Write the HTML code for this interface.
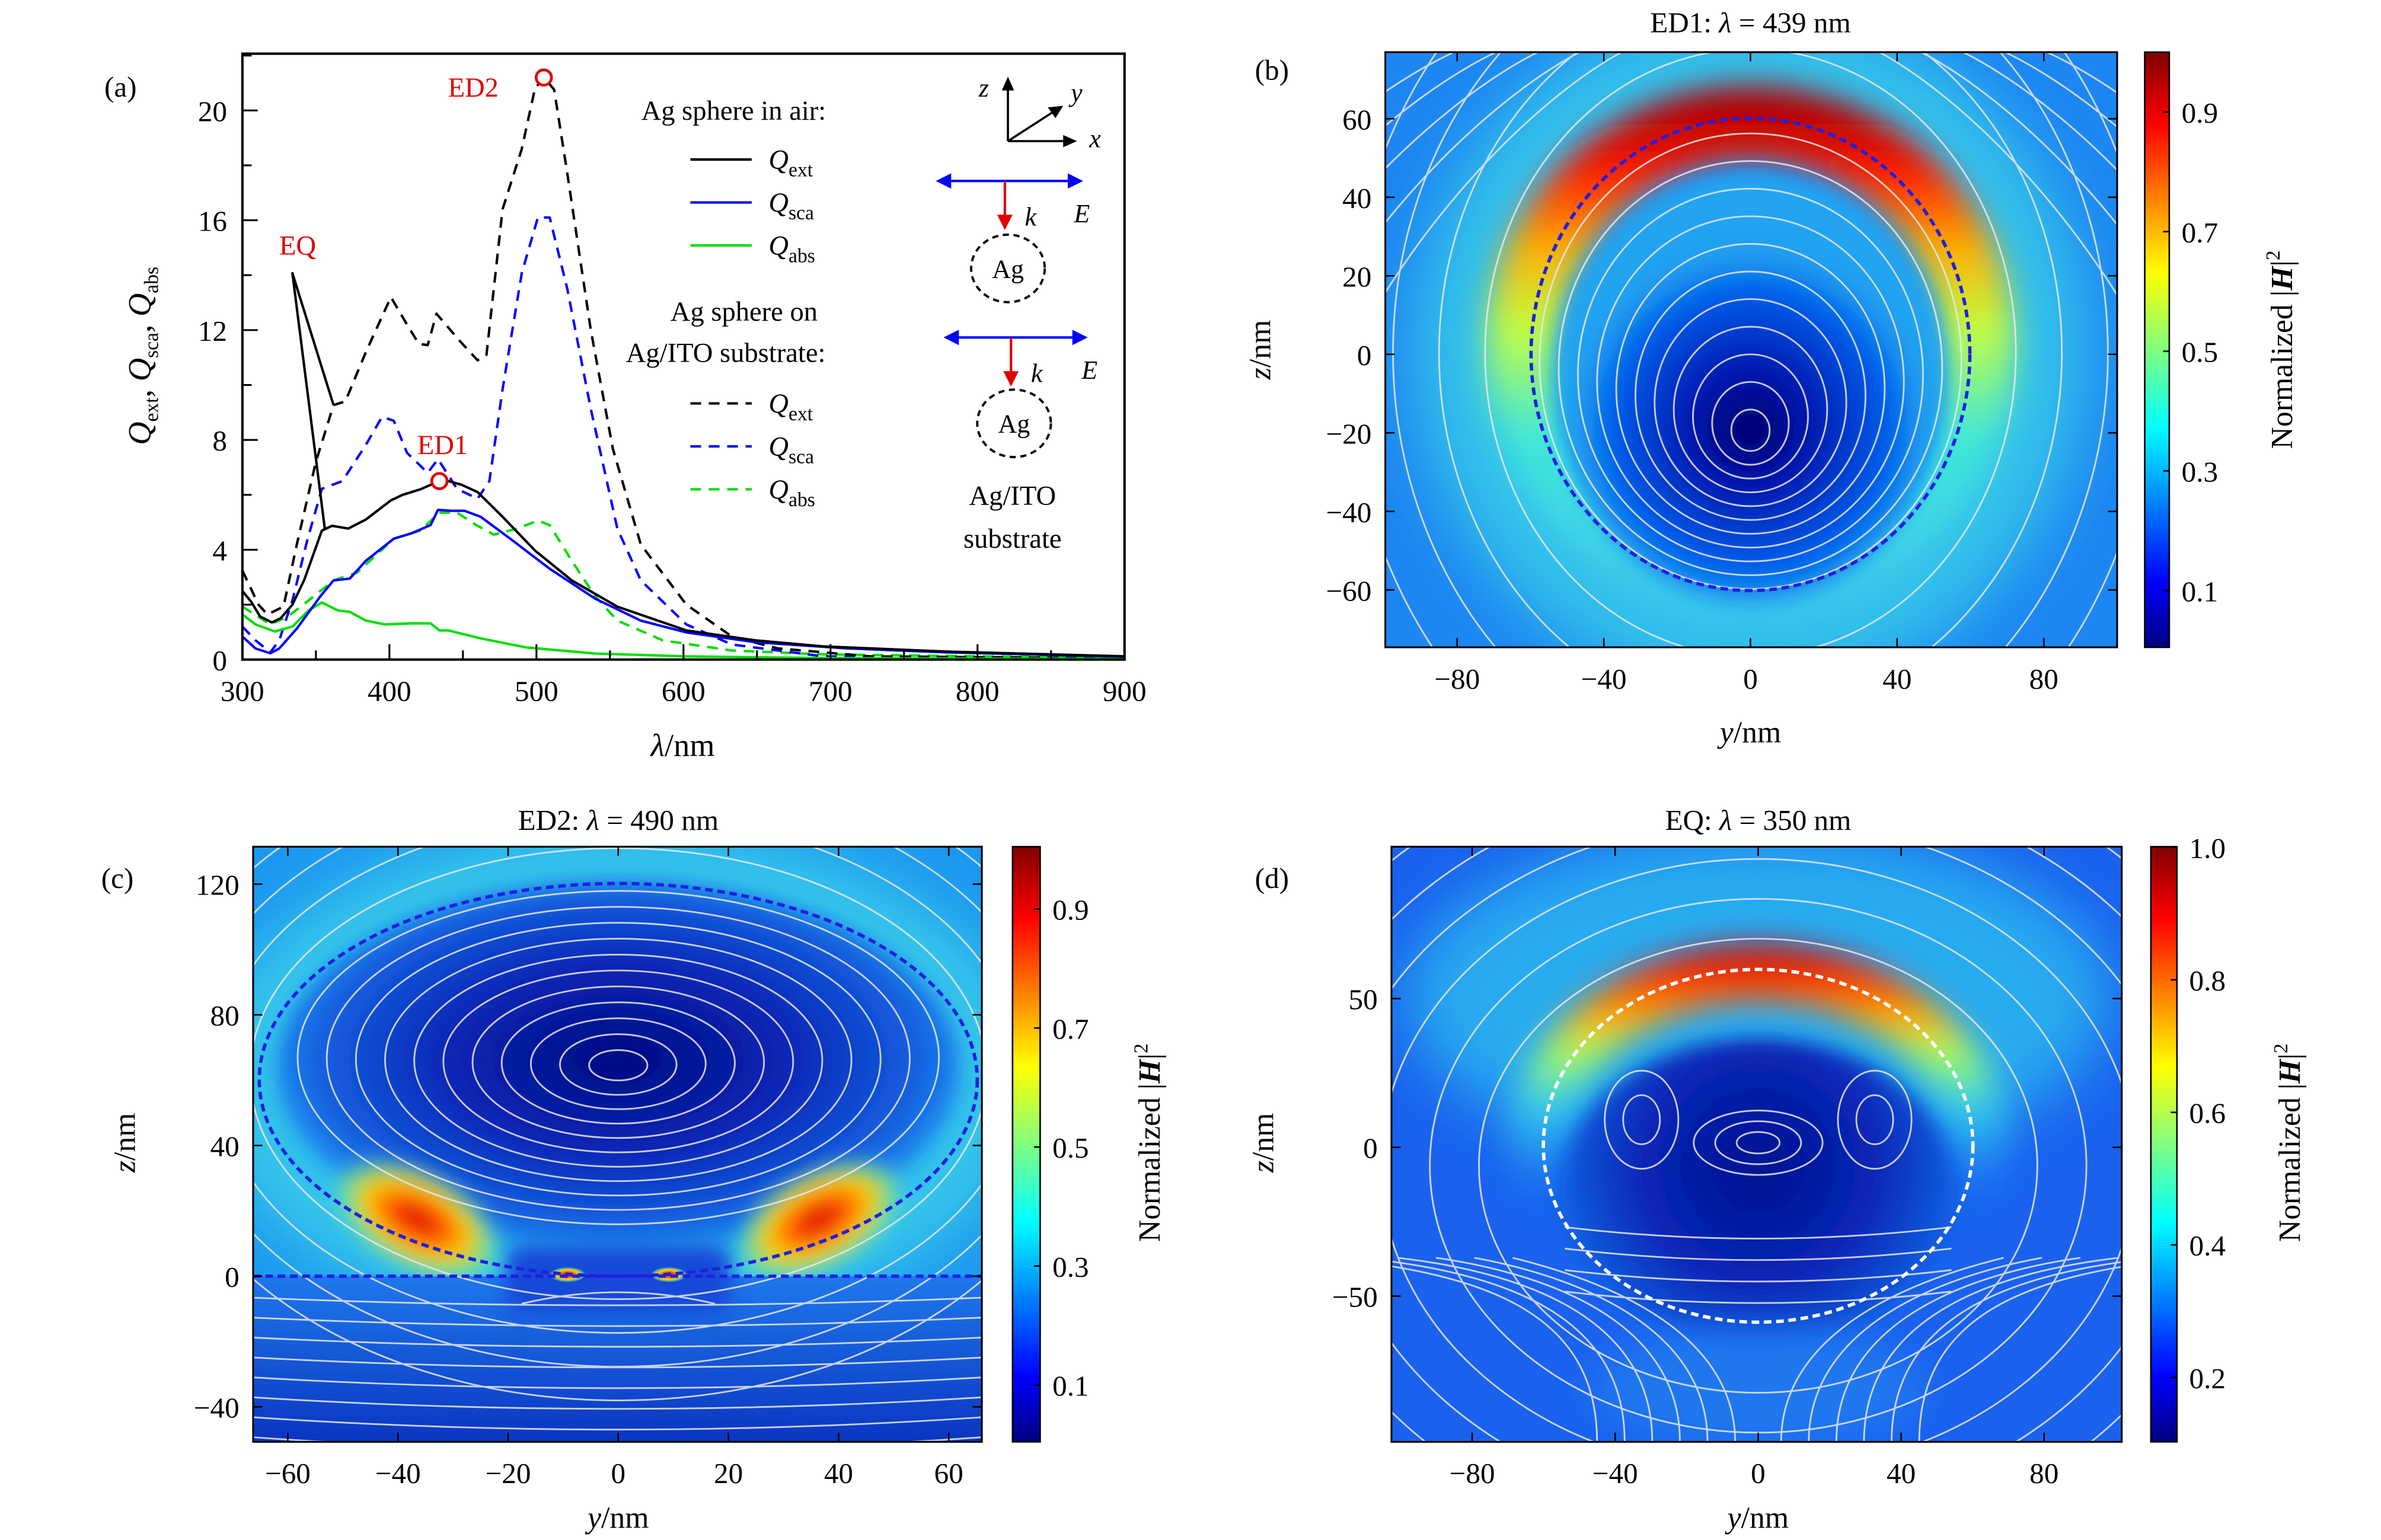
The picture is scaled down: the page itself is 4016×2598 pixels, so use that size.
<!DOCTYPE html>
<html><head><meta charset="utf-8"><style>
html,body{margin:0;padding:0;background:#fff;overflow:hidden;width:4016px;height:2598px;}
#wrap{width:4016px;height:2598px;overflow:hidden;position:relative;}
svg{display:block;position:absolute;left:0;top:0;}
text{font-family:"Liberation Serif","DejaVu Serif",serif;}
</style></head><body>
<div id="wrap">
<svg id="fig" xmlns="http://www.w3.org/2000/svg" width="4016" height="2598" viewBox="0 0 1552 1004" overflow="hidden">
<defs>
  <linearGradient id="jet" x1="0" y1="1" x2="0" y2="0">
    <stop offset="0" stop-color="#00007f"/><stop offset="0.11" stop-color="#0000ff"/>
    <stop offset="0.37" stop-color="#00ffff"/><stop offset="0.63" stop-color="#ffff00"/>
    <stop offset="0.88" stop-color="#ff0000"/><stop offset="1" stop-color="#800000"/>
  </linearGradient>
  <filter id="b6" x="-50%" y="-50%" width="200%" height="200%"><feGaussianBlur stdDeviation="6"/></filter>
  <filter id="b10" x="-50%" y="-50%" width="200%" height="200%"><feGaussianBlur stdDeviation="10"/></filter>
  <filter id="b12" x="-50%" y="-50%" width="200%" height="200%"><feGaussianBlur stdDeviation="12"/></filter>
  <filter id="b20" x="-50%" y="-50%" width="200%" height="200%"><feGaussianBlur stdDeviation="20"/></filter>
  <clipPath id="clipB"><rect x="903" y="34" width="477" height="388"/></clipPath>
  <clipPath id="clipC"><rect x="165" y="552" width="475" height="388"/></clipPath>
  <clipPath id="clipD"><rect x="907" y="552" width="476" height="388"/></clipPath>
  <linearGradient id="ringB" gradientUnits="userSpaceOnUse" x1="0" y1="70" x2="0" y2="400">
    <stop offset="0" stop-color="#b00000"/><stop offset="0.13" stop-color="#ff1800"/>
    <stop offset="0.28" stop-color="#ffb000"/><stop offset="0.44" stop-color="#c0ff40"/>
    <stop offset="0.65" stop-color="#40e8d8"/><stop offset="1" stop-color="#40c8f0"/>
  </linearGradient>
  <radialGradient id="innerB" cx="1141" cy="280" r="130" gradientUnits="userSpaceOnUse">
    <stop offset="0" stop-color="#00006e"/><stop offset="0.3" stop-color="#0018b0"/>
    <stop offset="0.7" stop-color="#0060ec"/><stop offset="1" stop-color="#20a8f0" stop-opacity="0"/>
  </radialGradient>
  <radialGradient id="innerC" cx="403" cy="690" r="230" gradientUnits="userSpaceOnUse" gradientTransform="translate(403 690) scale(1 0.55) translate(-403 -690)">
    <stop offset="0" stop-color="#000a80"/><stop offset="0.5" stop-color="#0a28b8"/>
    <stop offset="0.85" stop-color="#1460e0"/><stop offset="1" stop-color="#2090f0"/>
  </radialGradient>
  <radialGradient id="hot">
    <stop offset="0" stop-color="#d00000"/><stop offset="0.3" stop-color="#ff5000"/>
    <stop offset="0.6" stop-color="#ffd000"/><stop offset="0.85" stop-color="#80f080" stop-opacity="0.6"/>
    <stop offset="1" stop-color="#40d0f0" stop-opacity="0"/>
  </radialGradient>
  <linearGradient id="belowC" x1="0" y1="0" x2="0" y2="1">
    <stop offset="0" stop-color="#1e78ec"/><stop offset="1" stop-color="#0a34c0"/>
  </linearGradient>
  <linearGradient id="ringD" gradientUnits="userSpaceOnUse" x1="0" y1="615" x2="0" y2="790">
    <stop offset="0" stop-color="#b00000"/><stop offset="0.12" stop-color="#ff2000"/>
    <stop offset="0.28" stop-color="#ffb000"/><stop offset="0.42" stop-color="#a0ff60"/>
    <stop offset="0.62" stop-color="#30d0f0" stop-opacity="0.8"/><stop offset="1" stop-color="#2080f0" stop-opacity="0"/>
  </linearGradient>
  <radialGradient id="innerD" cx="1146" cy="760" r="130" gradientUnits="userSpaceOnUse">
    <stop offset="0" stop-color="#001090"/><stop offset="0.6" stop-color="#0828b8"/>
    <stop offset="1" stop-color="#1060e0"/>
  </radialGradient>
</defs>

<g id="panelA">
  <text x="68" y="63" font-size="19">(a)</text>
  <g id="aMarks"></g>
  <rect x="158" y="35" width="575" height="395" fill="none" stroke="#000" stroke-width="1.6"/>
  <g id="aTicks"></g>
  <text x="445" y="493" font-size="21" text-anchor="middle"><tspan font-style="italic">λ</tspan>/nm</text>
  <text transform="translate(98 232) rotate(-90)" font-size="21" text-anchor="middle"><tspan font-style="italic">Q</tspan><tspan font-size="13" dy="5">ext</tspan><tspan dy="-5">, </tspan><tspan font-style="italic">Q</tspan><tspan font-size="13" dy="5">sca</tspan><tspan dy="-5">, </tspan><tspan font-style="italic">Q</tspan><tspan font-size="13" dy="5">abs</tspan></text>
  <text x="182" y="166" font-size="18" fill="#e00000">EQ</text>
  <text x="292" y="63" font-size="18" fill="#e00000">ED2</text>
  <text x="272" y="296" font-size="18" fill="#e00000">ED1</text>
  <g font-size="18">
    <text x="418" y="78">Ag sphere in air:</text>
    <text x="437" y="209">Ag sphere on</text>
    <text x="408" y="236">Ag/ITO substrate:</text>
  </g>
  <g id="legendEntries"></g>
  <g>
    <g stroke="#000" stroke-width="1.4" fill="none">
      <line x1="657" y1="92" x2="657" y2="56"/><line x1="657" y1="92" x2="696" y2="92"/><line x1="657" y1="92" x2="688" y2="72"/>
    </g>
    <polygon points="657,50 653,59 661,59" fill="#000"/>
    <polygon points="702,92 693,88 693,96" fill="#000"/>
    <polygon points="693,69 683,70 688,77" fill="#000"/>
    <text x="638" y="63" font-size="17" font-style="italic">z</text>
    <text x="698" y="66" font-size="17" font-style="italic">y</text>
    <text x="710" y="96" font-size="17" font-style="italic">x</text>
    <line x1="617" y1="118" x2="699" y2="118" stroke="#0000ff" stroke-width="1.6"/>
    <polygon points="610,118 620,113 620,123" fill="#0000ff"/><polygon points="706,118 696,113 696,123" fill="#0000ff"/>
    <line x1="655" y1="118" x2="655" y2="142" stroke="#e00000" stroke-width="1.6"/>
    <polygon points="655,150 650,140 660,140" fill="#e00000"/>
    <text x="668" y="147" font-size="17" font-style="italic">k</text>
    <text x="700" y="145" font-size="17" font-style="italic">E</text>
    <ellipse cx="657" cy="175" rx="24" ry="22" fill="none" stroke="#000" stroke-width="1.5" stroke-dasharray="4 3"/>
    <text x="657" y="181" font-size="17" text-anchor="middle">Ag</text>
    <line x1="622" y1="220" x2="702" y2="220" stroke="#0000ff" stroke-width="1.6"/>
    <polygon points="615,220 625,215 625,225" fill="#0000ff"/><polygon points="709,220 699,215 699,225" fill="#0000ff"/>
    <line x1="659" y1="220" x2="659" y2="244" stroke="#e00000" stroke-width="1.6"/>
    <polygon points="659,252 654,242 664,242" fill="#e00000"/>
    <text x="672" y="249" font-size="17" font-style="italic">k</text>
    <text x="705" y="247" font-size="17" font-style="italic">E</text>
    <ellipse cx="661" cy="276" rx="24" ry="22" fill="none" stroke="#000" stroke-width="1.5" stroke-dasharray="4 3"/>
    <text x="661" y="282" font-size="17" text-anchor="middle">Ag</text>
    <text x="660" y="329" font-size="18" text-anchor="middle">Ag/ITO</text>
    <text x="660" y="357" font-size="18" text-anchor="middle">substrate</text>
  </g>
</g>

<g id="panelB">
  <text x="1141" y="21" font-size="19" text-anchor="middle">ED1: <tspan font-style="italic">λ</tspan> = 439 nm</text>
  <text x="818" y="52" font-size="19">(b)</text>
  <g clip-path="url(#clipB)">
    <rect x="903" y="34" width="477" height="388" fill="#1d86f2"/>
    <ellipse cx="1141" cy="228" rx="175" ry="180" fill="none" stroke="#38d0e8" stroke-width="90" opacity="0.8" filter="url(#b20)"/>
    <ellipse cx="1141" cy="228" rx="148" ry="148" fill="none" stroke="url(#ringB)" stroke-width="48" filter="url(#b10)"/>
    <ellipse cx="1141" cy="250" rx="128" ry="138" fill="#20a4f0" filter="url(#b6)"/>
    <ellipse cx="1141" cy="270" rx="115" ry="125" fill="url(#innerB)" filter="url(#b6)"/>
    <g id="streamB" fill="none" stroke="#e8e8f0" stroke-width="1.1" opacity="0.85"></g>
    <ellipse cx="1141" cy="231" rx="143" ry="154" fill="none" stroke="#2020e0" stroke-width="2.2" stroke-dasharray="5 3"/>
  </g>
  <rect x="903" y="34" width="477" height="388" fill="none" stroke="#000" stroke-width="1.2"/>
  <g id="ticksB"></g>
  <rect x="1398" y="34" width="16" height="388" fill="url(#jet)" stroke="#000" stroke-width="1"/>
  <g id="cbB"></g>
  <text x="1141" y="484" font-size="20" text-anchor="middle"><tspan font-style="italic">y</tspan>/nm</text>
  <text transform="translate(828 228) rotate(-90)" font-size="20" text-anchor="middle"><tspan font-style="italic">z</tspan>/nm</text>
  <text transform="translate(1494 228) rotate(-90)" font-size="20" text-anchor="middle">Normalized |<tspan font-weight="bold" font-style="italic">H</tspan>|<tspan font-size="13" dy="-8">2</tspan></text>
</g>

<g id="panelC">
  <text x="403" y="541" font-size="19" text-anchor="middle">ED2: <tspan font-style="italic">λ</tspan> = 490 nm</text>
  <text x="66" y="579" font-size="19">(c)</text>
  <g clip-path="url(#clipC)">
    <rect x="165" y="552" width="475" height="290" fill="#1c98f0"/>
    <ellipse cx="403" cy="704" rx="240" ry="135" fill="none" stroke="#3cd4e8" stroke-width="60" opacity="0.8" filter="url(#b20)"/>
    <ellipse cx="403" cy="695" rx="222" ry="120" fill="url(#innerC)" filter="url(#b6)"/>
    <ellipse cx="272" cy="795" rx="62" ry="34" transform="rotate(28 272 795)" fill="url(#hot)" filter="url(#b6)"/>
    <ellipse cx="534" cy="795" rx="62" ry="34" transform="rotate(-28 534 795)" fill="url(#hot)" filter="url(#b6)"/>
    <rect x="165" y="832" width="475" height="110" fill="url(#belowC)"/>
    <rect x="330" y="812" width="146" height="44" rx="10" fill="#1648d8" filter="url(#b6)"/>
    <ellipse cx="370" cy="831" rx="12" ry="5" fill="url(#hot)"/>
    <ellipse cx="436" cy="831" rx="12" ry="5" fill="url(#hot)"/>
    <g id="streamC" fill="none" stroke="#e8e8f0" stroke-width="1.1" opacity="0.85"></g>
    <ellipse cx="403" cy="704" rx="234" ry="128" fill="none" stroke="#2020e0" stroke-width="2.2" stroke-dasharray="5 3"/>
    <line x1="165" y1="832" x2="640" y2="832" stroke="#2020e0" stroke-width="2.2" stroke-dasharray="5 3"/>
  </g>
  <rect x="165" y="552" width="475" height="388" fill="none" stroke="#000" stroke-width="1.2"/>
  <g id="ticksC"></g>
  <rect x="660" y="552" width="18" height="388" fill="url(#jet)" stroke="#000" stroke-width="1"/>
  <g id="cbC"></g>
  <text x="403" y="996" font-size="20" text-anchor="middle"><tspan font-style="italic">y</tspan>/nm</text>
  <text transform="translate(88 745) rotate(-90)" font-size="20" text-anchor="middle"><tspan font-style="italic">z</tspan>/nm</text>
  <text transform="translate(756 745) rotate(-90)" font-size="20" text-anchor="middle">Normalized |<tspan font-weight="bold" font-style="italic">H</tspan>|<tspan font-size="13" dy="-8">2</tspan></text>
</g>

<g id="panelD">
  <text x="1146" y="541" font-size="19" text-anchor="middle">EQ: <tspan font-style="italic">λ</tspan> = 350 nm</text>
  <text x="818" y="579" font-size="19">(d)</text>
  <g clip-path="url(#clipD)">
    <rect x="907" y="552" width="476" height="388" fill="#1a62ee"/>
    <ellipse cx="1146" cy="650" rx="230" ry="110" fill="#2cb8f0" opacity="0.85" filter="url(#b20)"/>
    <ellipse cx="1146" cy="752" rx="145" ry="118" fill="none" stroke="url(#ringD)" stroke-width="36" filter="url(#b10)"/>
    <ellipse cx="1146" cy="775" rx="128" ry="98" fill="url(#innerD)" filter="url(#b6)"/>
    <ellipse cx="1146" cy="905" rx="110" ry="40" fill="#2080f0" opacity="0.7" filter="url(#b12)"/>
    <g id="streamD" fill="none" stroke="#e8e8f0" stroke-width="1.1" opacity="0.85"></g>
    <ellipse cx="1146" cy="747" rx="140" ry="115" fill="none" stroke="#ffffff" stroke-width="2.2" stroke-dasharray="5 3"/>
  </g>
  <rect x="907" y="552" width="476" height="388" fill="none" stroke="#000" stroke-width="1.2"/>
  <g id="ticksD"></g>
  <rect x="1402" y="552" width="17" height="388" fill="url(#jet)" stroke="#000" stroke-width="1"/>
  <g id="cbD"></g>
  <text x="1146" y="996" font-size="20" text-anchor="middle"><tspan font-style="italic">y</tspan>/nm</text>
  <text transform="translate(830 745) rotate(-90)" font-size="20" text-anchor="middle"><tspan font-style="italic">z</tspan>/nm</text>
  <text transform="translate(1499 745) rotate(-90)" font-size="20" text-anchor="middle">Normalized |<tspan font-weight="bold" font-style="italic">H</tspan>|<tspan font-size="13" dy="-8">2</tspan></text>
</g>
</svg>
</div>

<script>
const extAirL = [300,306,312,320,326,334,342,354,361,372,384,401,409,421,434,440,449,460,477,499,524,555,602,649,695,779,900];
const extAirV = [2.5,2.1,1.57,1.35,1.5,2.0,2.9,4.7,4.87,4.77,5.1,5.8,6.0,6.2,6.5,6.5,6.37,6.1,5.2,3.97,2.88,1.93,1.06,0.7,0.48,0.29,0.12];
const eqSpikeL = [356,334,362];
const eqSpikeV = [4.77,14.07,9.27];
const scaAirL = [300,309,319,325,337,353,362,373,384,403,415,428,433,442,451,462,484,509,540,571,602,649,711,779,900];
const scaAirV = [0.84,0.4,0.23,0.4,1.13,2.3,2.88,2.95,3.6,4.4,4.6,4.9,5.45,5.42,5.42,5.2,4.33,3.31,2.22,1.42,0.99,0.63,0.41,0.26,0.1];
const absAirL = [300,309,322,334,345,354,365,373,384,397,415,428,434,440,462,493,540,602,700,900];
const absAirV = [1.64,1.28,1.02,1.2,1.79,2.08,1.79,1.74,1.42,1.28,1.32,1.32,1.06,1.06,0.77,0.44,0.22,0.12,0.05,0.02];
const extSubL = [300,311,317,328,337,350,362,370,384,401,412,420,426,432,448,460,466,477,490,499,505,512,521,537,552,571,602,633,664,727,900];
const extSubV = [3.24,2.0,1.64,1.93,4.2,7.2,9.27,9.4,11.2,13.2,12.2,11.5,11.45,12.6,11.6,10.9,11.1,16.4,18.6,20.8,21.2,20.76,17.7,12.0,7.67,4.19,2.0,0.84,0.41,0.12,0.05];
const scaSubL = [300,309,319,325,334,344,354,368,384,395,403,412,426,433,446,460,468,477,490,501,509,521,537,555,571,602,633,695,900];
const scaSubV = [1.2,0.7,0.26,0.7,2.15,4.33,6.22,6.5,7.82,8.84,8.7,7.53,6.8,7.3,6.22,5.86,6.5,9.85,14.07,16.1,16.1,13.5,9.13,4.77,2.88,1.28,0.55,0.12,0.03];
const absSubL = [300,319,331,345,362,378,403,421,434,446,459,471,487,501,509,524,540,555,586,633,695,900];
const absSubV = [1.93,1.28,1.57,2.15,2.88,3.17,4.4,4.7,5.35,5.35,4.9,4.55,4.77,5.06,4.9,3.6,2.3,1.42,0.7,0.33,0.19,0.05];
const markerL = [505,434];
const markerV = [21.2,6.5];
const xTicksA = [300,400,500,600,700,800,900];
const yTicksA = [0,4,8,12,16,20];

const NS = "http://www.w3.org/2000/svg";
function mk(tag, attrs, parent){ const e=document.createElementNS(NS,tag); for(const k in attrs) e.setAttribute(k,attrs[k]); if(parent) parent.appendChild(e); return e; }
const xA = v => 158 + (v-300)*575/600;
const yA = v => 430 - v*17.9;

const aMarks = document.getElementById('aMarks');
function series(L,V,color,dash,name){
  const d = L.map((l,i)=>(i?'L':'M')+xA(l).toFixed(1)+','+yA(V[i]).toFixed(1)).join('');
  const p = mk('path',{d:d,fill:'none',stroke:color,'stroke-width':1.6,'stroke-linejoin':'round'},aMarks);
  if(dash) p.setAttribute('stroke-dasharray','7 5');
  
  
}
series(absSubL,absSubV,'#00dd00',true,'qabs-substrate-line');
series(scaSubL,scaSubV,'#0000ff',true,'qsca-substrate-line');
series(extSubL,extSubV,'#000',true,'qext-substrate-line');
series(absAirL,absAirV,'#00dd00',false,'qabs-air-line');
series(scaAirL,scaAirV,'#0000ff',false,'qsca-air-line');
series(extAirL,extAirV,'#000',false,'qext-air-line');
series(eqSpikeL,eqSpikeV,'#000',false,'eq-spike-line');
markerL.forEach((l,i)=>{
  const c = mk('circle',{cx:xA(l),cy:yA(markerV[i]),r:5,fill:'#fff',stroke:'#e00000','stroke-width':1.8},aMarks);
  
  
});
const aT = document.getElementById('aTicks');
for(let v=300; v<=900; v+=50){ mk('line',{x1:xA(v),x2:xA(v),y1:430,y2:v%100?424:420,stroke:'#000','stroke-width':1.2},aT); }
xTicksA.forEach(v=>{ const t=mk('text',{x:xA(v),y:457,'font-size':19,'text-anchor':'middle'},aT); t.textContent=v;
    });
for(let v=0; v<=22; v+=2){ mk('line',{x1:158,x2:v%4?164:168,y1:yA(v),y2:yA(v),stroke:'#000','stroke-width':1.2},aT); }
yTicksA.forEach(v=>{ const t=mk('text',{x:148,y:yA(v)+7,'font-size':19,'text-anchor':'end'},aT); t.textContent=v;
    });

const leg = document.getElementById('legendEntries');
const legItems = [[104,'#000',false,'ext'],[132,'#0000ff',false,'sca'],[160,'#00dd00',false,'abs'],[263,'#000',true,'ext'],[291,'#0000ff',true,'sca'],[319,'#00dd00',true,'abs']];
legItems.forEach(it=>{
  const g = mk('g',{},leg);
  
  
  const l = mk('line',{x1:450,x2:490,y1:it[0],y2:it[0],stroke:it[1],'stroke-width':1.6},g);
  if(it[2]) l.setAttribute('stroke-dasharray','7 5');
  const t = mk('text',{x:501,y:it[0]+6,'font-size':18},g);
  t.innerHTML = '<tspan font-style="italic">Q</tspan><tspan font-size="13" dy="5">'+it[3]+'</tspan>';
});

function axes(gid, x0,x1,y0,y1, xv, xpix, yv, ypix, cbx, cbw, cbv, cbpix){
  const g = document.getElementById(gid);
  xv.forEach((v,i)=>{ const X=xpix(v);
    mk('line',{x1:X,x2:X,y1:y1,y2:y1-6,stroke:'#000','stroke-width':1},g);
    mk('line',{x1:X,x2:X,y1:y0,y2:y0+6,stroke:'#000','stroke-width':1},g);
    const t=mk('text',{x:X,y:y1+27,'font-size':19,'text-anchor':'middle'},g); t.textContent=(v<0?'\u2212'+(-v):v);
      });
  yv.forEach(v=>{ const Y=ypix(v);
    mk('line',{x1:x0,x2:x0+6,y1:Y,y2:Y,stroke:'#000','stroke-width':1},g);
    mk('line',{x1:x1,x2:x1-6,y1:Y,y2:Y,stroke:'#000','stroke-width':1},g);
    const t=mk('text',{x:x0-9,y:Y+7,'font-size':19,'text-anchor':'end'},g); t.textContent=(v<0?'\u2212'+(-v):v);
      });
  const cg = document.getElementById(cbx.id);
  cbv.forEach(v=>{ const Y=cbpix(v);
    mk('line',{x1:cbx.x+cbw,x2:cbx.x+cbw-4,y1:Y,y2:Y,stroke:'#000','stroke-width':1},cg);
    const t=mk('text',{x:cbx.x+cbw+8,y:Y+7,'font-size':19},cg); t.textContent=v;
      });
}
axes('ticksB',903,1380,34,422,[-80,-40,0,40,80],v=>1141+v*2.39,[60,40,20,0,-20,-40,-60],v=>231-v*2.56,{id:'cbB',x:1398},16,['0.1','0.3','0.5','0.7','0.9'],v=>385-(parseFloat(v)-0.1)*390);
axes('ticksC',165,640,552,940,[-60,-40,-20,0,20,40,60],v=>403+v*3.59,[120,80,40,0,-40],v=>832-v*2.13,{id:'cbC',x:660},18,['0.1','0.3','0.5','0.7','0.9'],v=>903-(parseFloat(v)-0.1)*388);
axes('ticksD',907,1383,552,940,[-80,-40,0,40,80],v=>1146+v*2.33,[50,0,-50],v=>748-v*1.94,{id:'cbD',x:1402},17,['0.2','0.4','0.6','0.8','1.0'],v=>898-(parseFloat(v)-0.2)*432);

function ell(g,cx,cy,rx,ry){ mk('ellipse',{cx:cx,cy:cy,rx:rx,ry:ry},g); }
const sB = document.getElementById('streamB');
for(let k=1;k<=11;k++){ const rx=k*12.5; ell(sB,1141,285-k*4.5,rx,rx*1.08); }
for(let k=1;k<=7;k++){ ell(sB,1141,230,143+k*30,160+k*38); }
for(let k=0;k<5;k++){ const xo=20+k*25;
  mk('path',{d:`M${1141-xo},34 C${1141-xo-30},-40 ${1141-330-k*40},200 ${1141-300-k*30},422`},sB);
  mk('path',{d:`M${1141+xo},34 C${1141+xo+30},-40 ${1141+330+k*40},200 ${1141+300+k*30},422`},sB); }
const sC = document.getElementById('streamC');
for(let k=1;k<=11;k++){ const rx=k*19; ell(sC,403,695-k*0.5,rx,rx*0.52); }
for(let k=1;k<=4;k++){ ell(sC,403,700,218+k*22,125+k*22); }
for(let k=0;k<8;k++){ const y=846+k*13; mk('path',{d:`M165,${y} Q403,${y+10+k} 640,${y}`},sC); }
mk('path',{d:'M340,850 Q403,835 466,850'},sC);
const sD = document.getElementById('streamD');
for(let k=1;k<=8;k++){ ell(sD,1146,760,150+k*32,122+k*26); }
for(let k=1;k<=3;k++){ ell(sD,1146,745,k*14,k*7); }
for(let k=1;k<=2;k++){ ell(sD,1070,730,k*12,k*16); ell(sD,1222,730,k*12,k*16); }
for(let k=0;k<6;k++){ const xo=15+k*18; mk('path',{d:`M${1146-xo},940 C${1146-xo},860 ${1146-120-k*10},830 ${1146-160-k*25},820`},sD);
  mk('path',{d:`M${1146+xo},940 C${1146+xo},860 ${1146+120+k*10},830 ${1146+160+k*25},820`},sD); }
for(let k=0;k<4;k++){ const y=800+k*14; mk('path',{d:`M1020,${y} Q1146,${y+15} 1272,${y}`},sD); }
</script>
</body></html>
